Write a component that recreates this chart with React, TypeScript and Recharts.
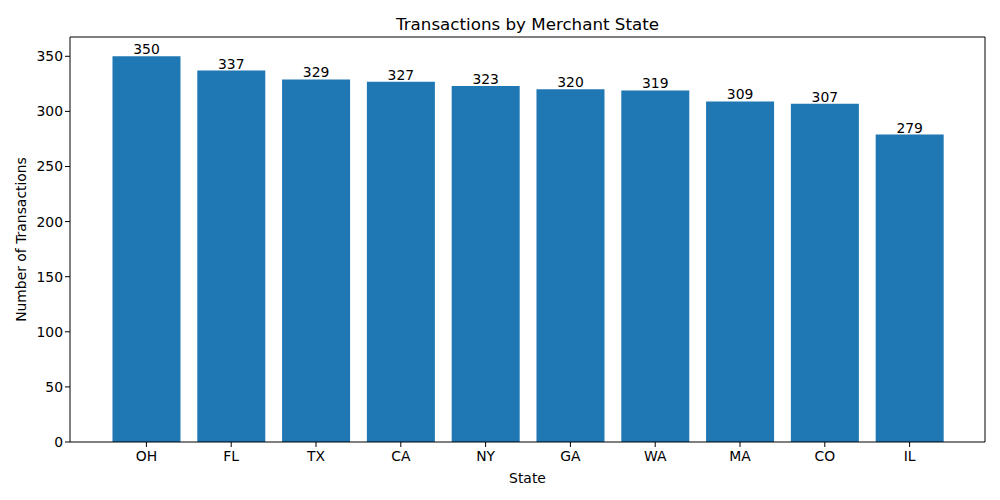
import React from "react";
import { Bar, BarChart, LabelList, XAxis, YAxis } from "recharts";

const states = ["OH", "FL", "TX", "CA", "NY", "GA", "WA", "MA", "CO", "IL"];
const transactions = [350, 337, 329, 327, 323, 320, 319, 309, 307, 279];
const yTicks = [0, 50, 100, 150, 200, 250, 300, 350];

const data = states.map((state, i) => ({ state, count: transactions[i] }));

const FONT = "'DejaVu Sans', sans-serif";

function YLabel(props: any) {
  const vb = props.viewBox || { y: 37, height: 405 };
  const cy = vb.y + vb.height / 2;
  return (
    <text
      x={21}
      y={cy}
      transform={`rotate(-90, 21, ${cy})`}
      textAnchor="middle"
      dominantBaseline="central"
      fontSize={13.9}
      fontFamily={FONT}
      fill="#000"
    >
      Number of Transactions
    </text>
  );
}

export default function App() {
  return (
    <div style={{ position: "absolute", left: 0, top: 0, width: 1000, height: 500, background: "#fff" }}>
      <BarChart
        width={1000}
        height={500}
        data={data}
        margin={{ top: 36, right: 14, bottom: 0, left: 10 }}
        barCategoryGap="10%"
        style={{ fontFamily: FONT }}
      >
        <XAxis
          dataKey="state"
          height={58}
          padding={{ left: 34, right: 33 }}
          tick={{ fill: "#000", fontSize: 13.9 }}
          tickLine={{ stroke: "#000" }}
          axisLine={{ stroke: "#000" }}
          tickSize={5}
          tickMargin={4}
          label={{ value: "State", position: "insideBottom", offset: 17, fill: "#000", fontSize: 13.9 }}
        />
        <XAxis
          xAxisId="top"
          orientation="top"
          dataKey="state"
          height={1}
          tick={false}
          tickLine={false}
          axisLine={{ stroke: "#000" }}
          label={{ value: "Transactions by Merchant State", position: "top", offset: 6, fill: "#000", fontSize: 16.7 }}
        />
        <YAxis
          width={60}
          domain={[0, 367.5]}
          ticks={yTicks}
          tick={{ fill: "#000", fontSize: 13.9 }}
          tickLine={{ stroke: "#000" }}
          axisLine={{ stroke: "#000" }}
          tickSize={5}
          label={(p: any) => <YLabel {...p} />}
        />
        <YAxis
          yAxisId="right"
          orientation="right"
          width={1}
          domain={[0, 367.5]}
          tick={false}
          tickLine={false}
          axisLine={{ stroke: "#000" }}
        />
        <Bar dataKey="count" fill="#1f77b4" isAnimationActive={false}>
          <LabelList dataKey="count" position="top" offset={2} fill="#000" fontSize={13.9} />
        </Bar>
      </BarChart>
    </div>
  );
}
